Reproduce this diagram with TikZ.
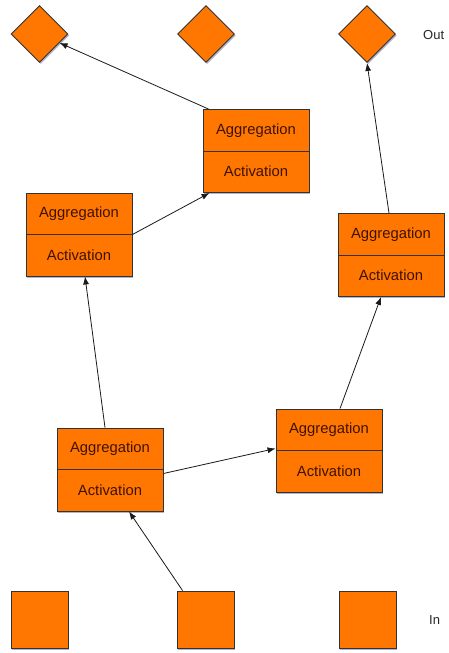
\documentclass[tikz,border=0pt]{standalone}
\usepackage{fontspec}
\setmainfont{Liberation Sans}
\usetikzlibrary{shapes.geometric,shadows,arrows.meta,calc}
\definecolor{orng}{HTML}{FF7700}
\definecolor{txtc}{HTML}{3F1200}
\tikzset{
  shd/.style={drop shadow={shadow xshift=1.2pt,shadow yshift=-1.5pt,opacity=0.3,fill=black!70!blue}},
  unitbox/.style={draw=black!80,line width=0.9pt,fill=orng,shd,minimum width=106pt,minimum height=83pt,inner sep=0pt},
  outnode/.style={diamond,draw=black!80,line width=0.9pt,fill=orng,shd,minimum width=57pt,minimum height=57pt,inner sep=0pt},
  innode/.style={rectangle,draw=black!80,line width=0.9pt,fill=orng,shd,minimum width=57pt,minimum height=57pt,inner sep=0pt},
  lbl/.style={text=txtc,font=\fontsize{14.8pt}{16pt}\selectfont,inner sep=0pt},
  side/.style={text=black!85,font=\fontsize{13pt}{15pt}\selectfont,inner sep=0pt},
  conn/.style={draw=black!90,line width=0.8pt,-{Latex[length=8pt,width=6pt]}}
}
\newcommand{\unit}[3]{%
  \node[unitbox] (#1) at (#2,#3) {};
  \draw[black!80,line width=0.8pt] (#1.west) -- (#1.east);
  \node[lbl] (#1a) at ($(#1.center)+(0,20.5pt)$) {Aggregation};
  \node[lbl] (#1b) at ($(#1.center)+(0,-20.5pt)$) {Activation};
}
\begin{document}
\begin{tikzpicture}[x=1pt,y=-1pt]
\useasboundingbox (0,0) rectangle (448,653);
% outputs
\node[outnode] (O1) at (39.5,34) {};
\node[outnode] (O2) at (206,34) {};
\node[outnode] (O3) at (367,34) {};
\node[side,anchor=west] (outl) at (423,35) {Out};
% inputs
\node[innode] (I1) at (39.5,619.5) {};
\node[innode] (I2) at (205.5,619.5) {};
\node[innode] (I3) at (367.5,619.5) {};
\node[side,anchor=west] (inl) at (429,620) {In};
% units
\unit{A}{256}{151}
\unit{B}{79}{234.5}
\unit{C}{391}{255}
\unit{D}{110}{469.5}
\unit{E}{329}{450.5}
% connectors
\draw[conn] ([xshift=6pt]A.north west) -- (O1);
\draw[conn] (B.east) -- ([xshift=7pt]A.south west);
\draw[conn] ([xshift=-5pt]D.north) -- ([xshift=6pt]B.south);
\draw[conn] ([yshift=-4pt]D.east) -- ([yshift=2pt]E.west);
\draw[conn] ([xshift=11pt]E.north) -- ([xshift=-10pt]C.south);
\draw[conn] ([xshift=-2pt]C.north) -- (O3.south);
\draw[conn] ([xshift=6pt]I2.north west) -- ([xshift=19pt]D.south);
\end{tikzpicture}
\end{document}
